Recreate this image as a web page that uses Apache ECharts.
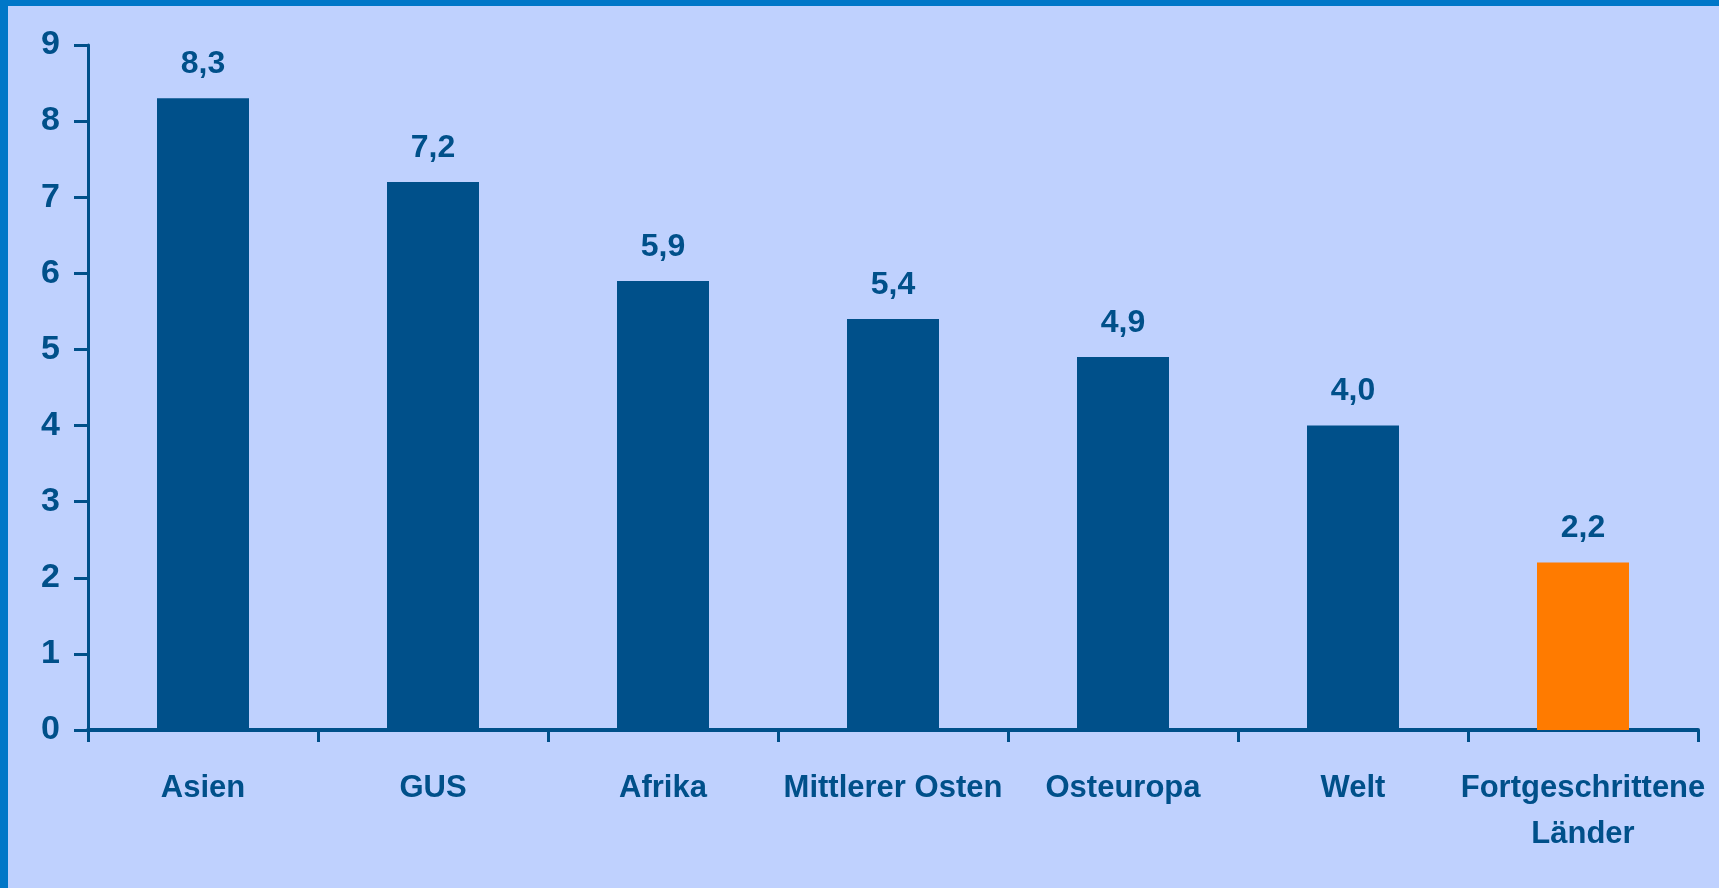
<!DOCTYPE html>
<html>
<head>
<meta charset="utf-8">
<script src="https://cdn.jsdelivr.net/npm/echarts@6/dist/echarts.min.js"></script>
<style>
html, body { margin: 0; padding: 0; background: #bfd1fe; }
#chart { width: 1719px; height: 888px; }
</style>
</head>
<body>
<div id="chart"></div>
<script>
const categories = ['Asien', 'GUS', 'Afrika', 'Mittlerer Osten', 'Osteuropa', 'Welt', 'Fortgeschrittene\nLänder'];
const values = [8.3, 7.2, 5.9, 5.4, 4.9, 4.0, 2.2];
const highlightIndex = 6;
const yTicks = [0, 1, 2, 3, 4, 5, 6, 7, 8, 9];

const darkBlue = '#00508a';
const orange = '#ff7b00';
const FONT = "'Liberation Sans Narrow', 'Arial Narrow', 'Liberation Sans', sans-serif";

const chart = echarts.init(document.getElementById('chart'), null, { renderer: 'canvas' });
chart.setOption({
  backgroundColor: '#bfd1fe',
  animation: false,
  graphic: [
    { type: 'rect', left: 0, top: 0, shape: { width: 1719, height: 6 }, style: { fill: '#0077c8' }, z: 100 },
    { type: 'rect', left: 0, top: 0, shape: { width: 8, height: 888 }, style: { fill: '#0077c8' }, z: 100 }
  ],
  grid: { left: 88, right: 21, top: 45, bottom: 158, containLabel: false },
  xAxis: {
    type: 'category',
    data: categories,
    axisLine: { lineStyle: { color: darkBlue, width: 4 } },
    axisTick: { show: true, length: 12, lineStyle: { color: darkBlue, width: 3 } },
    axisLabel: {
      color: darkBlue, fontFamily: FONT, fontWeight: 'bold', fontSize: 31,
      margin: 35, lineHeight: 46, interval: 0
    }
  },
  yAxis: {
    type: 'value',
    min: yTicks[0], max: yTicks[yTicks.length - 1], interval: 1,
    splitLine: { show: false },
    axisLine: { show: true, lineStyle: { color: darkBlue, width: 3 } },
    axisTick: { show: true, length: 14, lineStyle: { color: darkBlue, width: 3 } },
    axisLabel: { color: darkBlue, fontFamily: FONT, fontWeight: 'bold', fontSize: 34, margin: 28 }
  },
  series: [{
    type: 'bar',
    barWidth: '40%',
    data: values.map((v, i) => ({ value: v, itemStyle: { color: i === highlightIndex ? orange : darkBlue } })),
    label: {
      show: true, position: 'top', distance: 18,
      color: darkBlue, fontFamily: FONT, fontWeight: 'bold', fontSize: 32,
      formatter: p => p.value.toFixed(1).replace('.', ',')
    }
  }]
});
</script>
</body>
</html>
